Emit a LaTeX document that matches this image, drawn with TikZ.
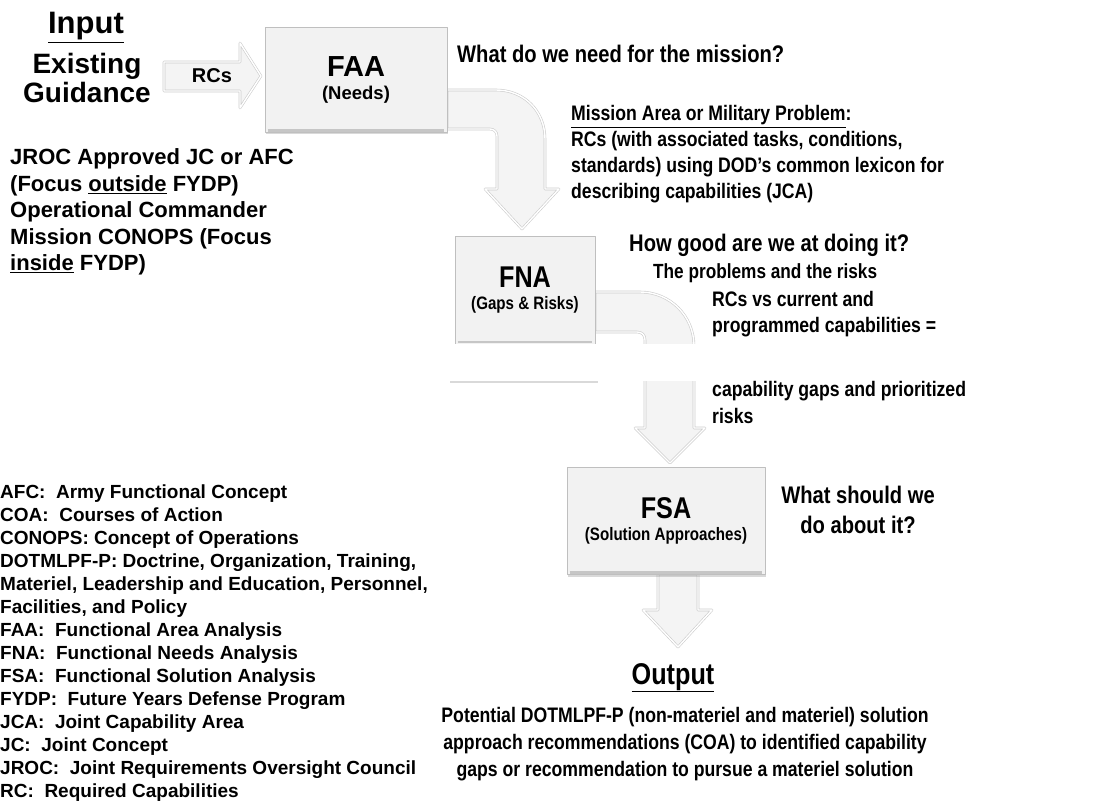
\documentclass[tikz,border=0pt]{standalone}
\usepackage{fontspec}
\setmainfont{Liberation Sans}
\newfontfamily\narrowfont{Liberation Sans}[FakeStretch=0.84]
\usetikzlibrary{shadows}
\newcommand{\txtsize}[2]{\fontsize{#1}{#2}\selectfont}

\begin{document}
\begin{tikzpicture}[x=1pt,y=-1pt,line join=round,
  box/.style={draw=gray!50,line width=0.8pt,fill=gray!10,inner sep=0pt,align=center,
    drop shadow={shadow xshift=1pt,shadow yshift=-2pt,opacity=0.3}},
  boxedge/.style={draw=gray!45,line width=2.4pt},
  blockarrow/.style={fill=gray!9,draw=gray!40,line width=0.6pt,double=white,double distance=1.4pt},
  wide/.style 2 args={inner sep=0pt,font=\bfseries\txtsize{#1}{#2}},
  narrow/.style 2 args={inner sep=0pt,font=\narrowfont\bfseries\txtsize{#1}{#2}}]
\useasboundingbox (0,0) rectangle (1112,802);
\draw[blockarrow] (164,62) -- (240,62) -- (240,43) -- (261,76) -- (240,108) -- (240,91) -- (164,91) -- cycle;
\draw[blockarrow] (447,90) -- (496,90) .. controls (524,90) and (545,111) .. (545,139) -- (545,189) -- (559,189) -- (522,229) -- (485,189) -- (497,189) -- (497,136) .. controls (497,132) and (494,129) .. (490,129) -- (447,129) -- cycle;
\draw[blockarrow] (595,292) -- (640,292) .. controls (670,292) and (694,316) .. (694,346) -- (694,428) -- (705,428) -- (670,463) -- (635,428) -- (645,428) -- (645,340) .. controls (645,335) and (642,332) .. (637,332) -- (595,332) -- cycle;
\draw[blockarrow] (658,574) -- (698,574) -- (698,610) -- (712,610) -- (678,647) -- (643,610) -- (658,610) -- cycle;
\node[box,minimum width=182,minimum height=105,font=\bfseries] (faa) at (356,80) {\txtsize{29}{30}FAA\\[8pt]\txtsize{18.5}{20}(Needs)};
\node[box,minimum width=140,minimum height=108,font=\narrowfont\bfseries] (fna) at (525,290) {\txtsize{30}{30}FNA\\[8pt]\txtsize{18}{20}(Gaps \& Risks)};
\node[box,minimum width=198,minimum height=107,font=\narrowfont\bfseries] (fsa) at (666,521) {\txtsize{30}{30}FSA\\[8pt]\txtsize{18}{20}(Solution Approaches)};
\foreach \b in {faa,fna,fsa}
  \draw[boxedge] ([xshift=3pt,yshift=2.5pt]\b.south west) -- ([xshift=-3pt,yshift=2.5pt]\b.south east);
\fill[white] (0,344) rectangle (1112,381);
\draw[gray!30,line width=1.2pt] (450,382) -- (598,382);
\node[wide={31}{32},anchor=base] (input) at (86,34) {\underline{Input}};
\node[wide={28}{29},anchor=base,align=center] (guid) at (87,103) {Existing\\Guidance};
\node[wide={20}{22},anchor=base] (rcs) at (212,83) {RCs};
\node[wide={22}{26.5},anchor=base west,align=left] (jroc) at (10,271) {JROC Approved JC or AFC\\(Focus \underline{outside} FYDP)\\Operational Commander\\Mission CONOPS (Focus\\\underline{inside} FYDP)};
\node[narrow={24}{30},anchor=base west] (need) at (457,63) {What do we need for the mission?};
\node[narrow={21}{26},anchor=base west,align=left] (area) at (571,199) {\underline{Mission Area or Military Problem}:\\RCs (with associated tasks, conditions,\\standards) using DOD’s common lexicon for\\describing capabilities (JCA)};
\node[narrow={24}{30},anchor=base west] (good) at (629,252) {How good are we at doing it?};
\node[narrow={20.5}{26},anchor=base west] (prob) at (653,279) {The problems and the risks};
\node[narrow={21}{26.5},anchor=base west,align=left] (gaps) at (712,333) {RCs vs current and\\programmed capabilities =};
\node[narrow={21}{27},anchor=base west,align=left] (risk) at (712,424) {capability gaps and prioritized\\risks};
\node[narrow={24}{30},anchor=base,align=center] (about) at (858,533) {What should we\\do about it?};
\node[narrow={30}{32},anchor=base] (output) at (673,684) {\underline{Output}};
\node[narrow={21}{27},anchor=base,align=center] (recs) at (685,776) {Potential DOTMLPF-P (non-materiel and materiel) solution\\approach recommendations (COA) to identified capability\\gaps or recommendation to pursue a materiel solution};
\node[wide={19}{23},anchor=base west,align=left] (gloss) at (0,797) {AFC:\ \ Army Functional Concept\\COA:\ \ Courses of Action\\CONOPS: Concept of Operations\\DOTMLPF-P: Doctrine, Organization, Training,\\Materiel, Leadership and Education, Personnel,\\Facilities, and Policy\\FAA:\ \ Functional Area Analysis\\FNA:\ \ Functional Needs Analysis\\FSA:\ \ Functional Solution Analysis\\FYDP:\ \ Future Years Defense Program\\JCA:\ \ Joint Capability Area\\JC:\ \ Joint Concept\\JROC:\ \ Joint Requirements Oversight Council\\RC:\ \ Required Capabilities};
\end{tikzpicture}
\end{document}
